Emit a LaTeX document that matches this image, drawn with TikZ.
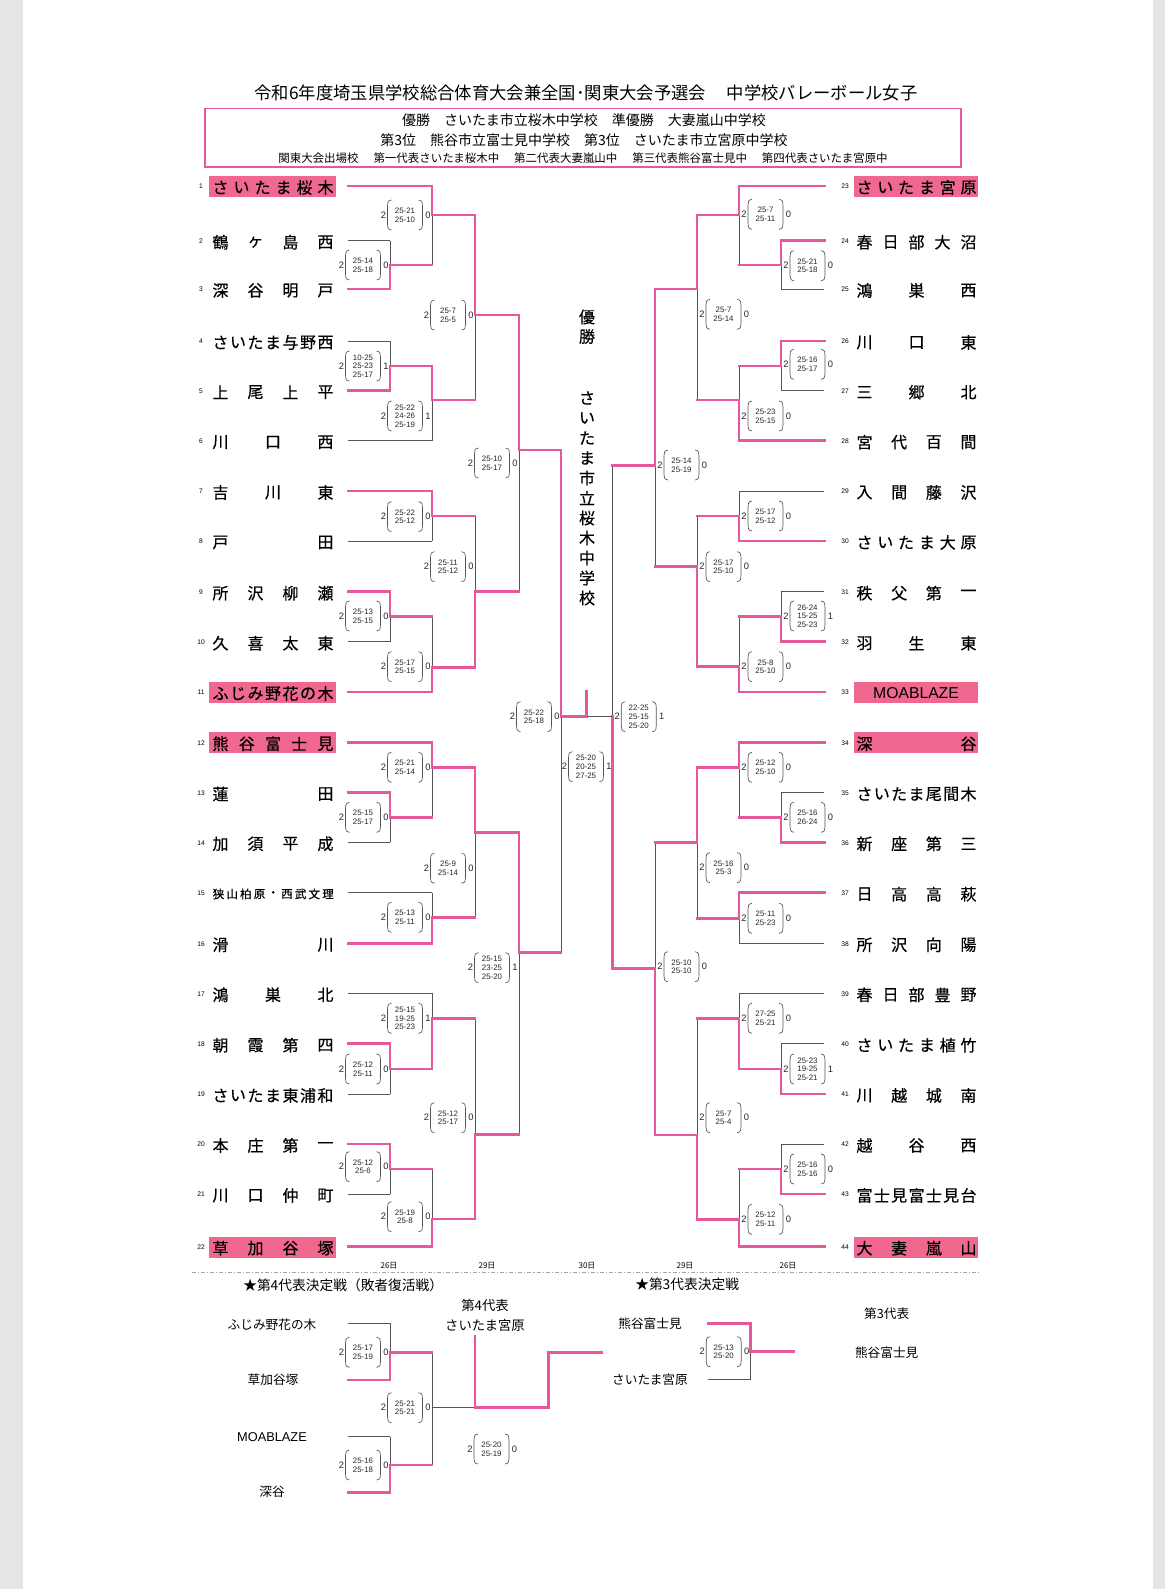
\documentclass[tikz,border=0pt]{standalone}
\usepackage{fontspec}
\setmainfont{Noto Sans CJK JP}
\newfontfamily\latf{Liberation Sans}
\newfontfamily\nmfont[FakeBold=0.5]{Noto Sans CJK JP}
\pgfdeclarelayer{back}
\pgfdeclarelayer{bg}
\pgfsetlayers{back,bg,main}
\definecolor{pkl}{HTML}{E6589C}
\definecolor{pkf}{HTML}{F0688F}
\definecolor{gl}{HTML}{555555}
\definecolor{pgbg}{HTML}{E6E6E6}
\tikzset{
 pk/.style={draw=pkl, line width=2.2pt, line cap=rect},
 bk/.style={draw=gl, line width=0.7pt},
 par/.style={draw=gl, line width=0.5pt},
 scd/.style={font=\latf\fontsize{7}{8}\selectfont, inner sep=0pt, text=black!85},
 scl/.style={font=\latf\fontsize{5.9}{6.5}\selectfont, inner sep=0pt, align=center, text=black!85},
 nm/.style={font=\nmfont\fontsize{12}{14}\selectfont, inner sep=0pt},
 nmsmall/.style={font=\nmfont\fontsize{8.6}{10}\selectfont, inner sep=0pt},
 num/.style={font=\latf\fontsize{5}{6}\selectfont, inner sep=0pt},
 hlbox/.style={fill=pkf, draw=none},
 lab/.style={font=\fontsize{9.5}{11}\selectfont, inner sep=0pt},
 dt/.style={font=\fontsize{6}{7}\selectfont, inner sep=0pt},
 ctr/.style={font=\nmfont\fontsize{12}{14}\selectfont, inner sep=0pt},
 dashl/.style={draw=gray!70, line width=0.6pt, dash pattern=on 3pt off 1.5pt on 0.8pt off 1.5pt}
}
\newcount\scn
\newcommand\SCR[5]{\global\advance\scn by 1
 \node[scd] (sc\the\scn a) at (#1+1.5,#2) {#3};
 \node[scl] (sc\the\scn b) at (#1+23,#2) {#4};
 \node[scd] (sc\the\scn c) at (#1+46,#2) {#5};
 \draw[par] (#1+9.5,#2-15) .. controls (#1+5.5,#2-14.5) and (#1+5.5,#2-12) .. (#1+5.5,#2-9) -- (#1+5.5,#2+9) .. controls (#1+5.5,#2+12) and (#1+5.5,#2+14.5) .. (#1+9.5,#2+15);
 \draw[par] (#1+36.5,#2-15) .. controls (#1+40.5,#2-14.5) and (#1+40.5,#2-12) .. (#1+40.5,#2-9) -- (#1+40.5,#2+9) .. controls (#1+40.5,#2+12) and (#1+40.5,#2+14.5) .. (#1+36.5,#2+15);}
\newcommand\SL[4]{\SCR{#1-50}{#2}{2}{#3}{#4}}
\newcommand\SR[4]{\SCR{#1+3.5}{#2}{2}{#3}{#4}}
\newcommand\TL[3]{\draw[#1] (348,#2) -- (#3,#2);}
\newcommand\TR[3]{\draw[#1] (824.3,#2) -- (#3,#2);}
\newcommand\MT[6]{\begin{pgfonlayer}{bg}\draw[bk] (#1,#3) -- (#1,#4);\end{pgfonlayer}
 \draw[pk] (#1,#2) -- (#1,#4);
 \draw[#6] (#1,#4) -- (#5,#4);}
\newcommand\NM[7]{\foreach \ch [count=\i] in {#7} {\node[#6] (#1-\i) at ({#2+(\i-1)*(#3-#2)/(#5-1)},#4) {\ch};}}
\newcommand\NL[4]{\node[num] (nl#1) at (201,#2+0.5) {#1};\NM{tl#1}{220.5}{325.5}{#2+1.5}{#3}{nm}{#4}}
\newcommand\NR[4]{\node[num] (nr#1) at (845,#2+0.5) {#1};\NM{tr#1}{864.5}{968.5}{#2+1.5}{#3}{nm}{#4}}
\newcommand\HL[1]{\fill[hlbox] (209,#1-10) rectangle (336,#1+11);}
\newcommand\HR[1]{\fill[hlbox] (854,#1-10) rectangle (978,#1+11);}
\begin{document}
\begin{tikzpicture}[x=0.75pt,y=-0.75pt]
\useasboundingbox (0,0) rectangle (1165,1589);
\begin{pgfonlayer}{back}
\fill[pgbg] (0,0) rectangle (1165,1589);
\fill[white] (23,0) rectangle (1153,1589);
\end{pgfonlayer}
% header
\node[font=\fontsize{13}{15}\selectfont, inner sep=0pt] (title) at (586,93) {令和6年度埼玉県学校総合体育大会兼全国･関東大会予選会\hspace{1.2em}中学校バレーボール女子};
\draw[draw=pkl, line width=1.1pt] (205,108.4) rectangle (961,167.2);
\node[font=\fontsize{10.5}{12}\selectfont, inner sep=0pt] (h1) at (584,120.6) {優勝　さいたま市立桜木中学校　準優勝　大妻嵐山中学校};
\node[font=\fontsize{10.5}{12}\selectfont, inner sep=0pt] (h2) at (584,140) {第3位　熊谷市立富士見中学校　第3位　さいたま市立宮原中学校};
\node[font=\fontsize{8.6}{10}\selectfont, inner sep=0pt] (h3) at (583,158.2) {関東大会出場校\hspace{1.3em}第一代表さいたま桜木中\hspace{1.3em}第二代表大妻嵐山中\hspace{1.3em}第三代表熊谷富士見中\hspace{1.3em}第四代表さいたま宮原中};
% highlight boxes
\HL{186}\HL{692}\HL{742.3}\HL{1246.7}
\HR{186}\HR{692}\HR{742.3}\HR{1246.7}
% left names
\NL{1}{186}{6}{さ,い,た,ま,桜,木}
\NL{2}{240.7}{4}{鶴,ヶ,島,西}
\NL{3}{289}{4}{深,谷,明,戸}
\NL{4}{341}{7}{さ,い,た,ま,与,野,西}
\NL{5}{390.7}{4}{上,尾,上,平}
\NL{6}{440.7}{3}{川,口,西}
\NL{7}{491}{3}{吉,川,東}
\NL{8}{541}{2}{戸,田}
\NL{9}{591.7}{4}{所,沢,柳,瀬}
\NL{10}{641.7}{4}{久,喜,太,東}
\NL{11}{692}{7}{ふ,じ,み,野,花,の,木}
\NL{12}{742.3}{5}{熊,谷,富,士,見}
\NL{13}{792.5}{2}{蓮,田}
\NL{14}{842.3}{4}{加,須,平,成}
\node[num] (nl15) at (201,893.2) {15};
\NM{tl15}{218.5}{328}{894}{9}{nmsmall}{狭,山,柏,原,・,西,武,文,理}
\NL{16}{943.3}{2}{滑,川}
\NL{17}{993.3}{3}{鴻,巣,北}
\NL{18}{1043.7}{4}{朝,霞,第,四}
\NL{19}{1094}{7}{さ,い,た,ま,東,浦,和}
\NL{20}{1144}{4}{本,庄,第,一}
\NL{21}{1194}{4}{川,口,仲,町}
\NL{22}{1246.7}{4}{草,加,谷,塚}
% right names
\NR{23}{186}{6}{さ,い,た,ま,宮,原}
\NR{24}{240.7}{5}{春,日,部,大,沼}
\NR{25}{289}{3}{鴻,巣,西}
\NR{26}{341}{3}{川,口,東}
\NR{27}{390.7}{3}{三,郷,北}
\NR{28}{440.7}{4}{宮,代,百,間}
\NR{29}{491}{4}{入,間,藤,沢}
\NR{30}{541}{6}{さ,い,た,ま,大,原}
\NR{31}{591.7}{4}{秩,父,第,一}
\NR{32}{641.7}{3}{羽,生,東}
\node[num] (nr33) at (845,692.5) {33};
\node[font=\latf\fontsize{11.8}{13}\selectfont, inner sep=0pt] (tr33) at (916,693.5) {MOABLAZE};
\NR{34}{742.3}{2}{深,谷}
\NR{35}{792.5}{7}{さ,い,た,ま,尾,間,木}
\NR{36}{842.3}{4}{新,座,第,三}
\NR{37}{892.7}{4}{日,高,高,萩}
\NR{38}{943.3}{4}{所,沢,向,陽}
\NR{39}{993.3}{5}{春,日,部,豊,野}
\NR{40}{1043.7}{6}{さ,い,た,ま,植,竹}
\NR{41}{1094}{4}{川,越,城,南}
\NR{42}{1144}{3}{越,谷,西}
\NR{43}{1194}{7}{富,士,見,富,士,見,台}
\NR{44}{1246.7}{4}{大,妻,嵐,山}
% left team lines
\TL{pk}{186}{432}\TL{bk}{240.7}{390}\TL{pk}{289}{390}\TL{bk}{341}{390}
\TL{pk}{390.7}{390}\TL{bk}{440.7}{432}\TL{pk}{491}{432}\TL{bk}{541}{432}
\TL{pk}{591.7}{390}\TL{bk}{641.7}{390}\TL{pk}{692}{432}\TL{pk}{742.3}{432}
\TL{pk}{792.5}{390}\TL{bk}{842.3}{390}\TL{bk}{892.7}{432}\TL{pk}{943.3}{432}
\TL{bk}{993.3}{432}\TL{pk}{1043.7}{390}\TL{bk}{1094}{390}\TL{pk}{1144}{390}
\TL{bk}{1194}{390}\TL{pk}{1246.7}{432}
% left matches
\MT{390}{289}{240.7}{265}{432}{pk}
\MT{432}{186}{265}{215}{475}{pk}
\MT{390}{390.7}{341}{366}{432}{pk}
\MT{432}{366}{440.7}{400}{475}{pk}
\MT{475}{215}{400}{315}{519}{pk}
\MT{432}{491}{541}{516}{475}{pk}
\MT{390}{591.7}{641.7}{616.7}{432}{pk}
\MT{432}{692}{616.7}{667.3}{475}{pk}
\MT{475}{667.3}{516}{591.7}{519}{pk}
\MT{519}{315}{591.7}{450}{561}{pk}
\MT{390}{792.5}{842.3}{817.3}{432}{pk}
\MT{432}{742.3}{817.3}{767.3}{475}{pk}
\MT{432}{943.3}{892.7}{917.3}{475}{pk}
\MT{475}{767.3}{917.3}{832.7}{519}{pk}
\MT{390}{1043.7}{1094}{1069}{432}{pk}
\MT{432}{1069}{993.3}{1018.3}{475}{pk}
\MT{390}{1144}{1194}{1169}{432}{pk}
\MT{432}{1246.7}{1169}{1219}{475}{pk}
\MT{475}{1219}{1018.3}{1134.3}{519}{pk}
\MT{519}{832.7}{1134.3}{952.7}{561}{pk}
\MT{561}{450}{952.7}{716.7}{586.7}{pk}
\draw[pk] (586.7,716.7) -- (586.7,691.7);
% right team lines
\TR{pk}{186}{739}\TR{pk}{240.7}{781}\TR{bk}{289}{781}\TR{pk}{341}{781}
\TR{bk}{390.7}{781}\TR{pk}{440.7}{739}\TR{bk}{491}{739}\TR{pk}{541}{739}
\TR{bk}{591.7}{781}\TR{pk}{641.7}{781}\TR{pk}{692}{739}\TR{pk}{742.3}{739}
\TR{bk}{792.5}{781}\TR{pk}{842.3}{781}\TR{pk}{892.7}{739}\TR{bk}{943.3}{739}
\TR{bk}{993.3}{739}\TR{bk}{1043.7}{781}\TR{pk}{1094}{781}\TR{bk}{1144}{781}
\TR{pk}{1194}{781}\TR{pk}{1246.7}{739}
% right matches
\MT{781}{240.7}{289}{265}{739}{pk}
\MT{739}{186}{265}{215}{697}{pk}
\MT{781}{341}{390.7}{366}{739}{pk}
\MT{739}{440.7}{366}{400}{697}{pk}
\MT{697}{215}{400}{289}{655}{pk}
\MT{739}{541}{491}{516}{697}{pk}
\MT{781}{641.7}{591.7}{616.7}{739}{pk}
\MT{739}{692}{616.7}{666.7}{697}{pk}
\MT{697}{666.7}{516}{566.7}{655}{pk}
\MT{655}{289}{566.7}{465.7}{612.3}{pk}
\MT{781}{842.3}{792.5}{817.3}{739}{pk}
\MT{739}{742.3}{817.3}{767.3}{697}{pk}
\MT{739}{892.7}{943.3}{918.3}{697}{pk}
\MT{697}{767.3}{918.3}{842.7}{655}{pk}
\MT{781}{1094}{1043.7}{1069}{739}{pk}
\MT{739}{1069}{993.3}{1018.3}{697}{pk}
\MT{781}{1194}{1144}{1169}{739}{pk}
\MT{739}{1246.7}{1169}{1219.3}{697}{pk}
\MT{697}{1219.3}{1018.3}{1135}{655}{pk}
\MT{655}{1135}{842.7}{968.3}{612.3}{pk}
\MT{612.3}{968.3}{465.7}{716.7}{586.7}{bk}
% left scores
\SL{390}{265}{25-14\\25-18}{0}
\SL{432}{215}{25-21\\25-10}{0}
\SL{390}{366}{10-25\\25-23\\25-17}{1}
\SL{432}{416}{25-22\\24-26\\25-19}{1}
\SL{475}{315}{25-7\\25-5}{0}
\SL{519}{463}{25-10\\25-17}{0}
\SL{432}{516.7}{25-22\\25-12}{0}
\SL{475}{566.7}{25-11\\25-12}{0}
\SL{390}{616}{25-13\\25-15}{0}
\SL{432}{666.7}{25-17\\25-15}{0}
\SL{561}{716.7}{25-22\\25-18}{0}
\SL{432}{767.3}{25-21\\25-14}{0}
\SL{390}{817.3}{25-15\\25-17}{0}
\SL{475}{868.3}{25-9\\25-14}{0}
\SL{432}{917.3}{25-13\\25-11}{0}
\SL{519}{967.7}{25-15\\23-25\\25-20}{1}
\SL{432}{1018.3}{25-15\\19-25\\25-23}{1}
\SL{390}{1069}{25-12\\25-11}{0}
\SL{475}{1117.7}{25-12\\25-17}{0}
\SL{390}{1166.7}{25-12\\25-6}{0}
\SL{432}{1216.7}{25-19\\25-8}{0}
% right scores
\SR{739}{214.3}{25-7\\25-11}{0}
\SR{781}{265.7}{25-21\\25-18}{0}
\SR{697}{314.3}{25-7\\25-14}{0}
\SR{781}{364.3}{25-16\\25-17}{0}
\SR{739}{416}{25-23\\25-15}{0}
\SR{655}{465}{25-14\\25-19}{0}
\SR{739}{516}{25-17\\25-12}{0}
\SR{697}{566.7}{25-17\\25-10}{0}
\SR{781}{616}{26-24\\15-25\\25-23}{1}
\SR{739}{666.7}{25-8\\25-10}{0}
\SR{612.3}{716.7}{22-25\\25-15\\25-20}{1}
\SR{739}{767.3}{25-12\\25-10}{0}
\SR{781}{817.3}{25-16\\26-24}{0}
\SR{697}{867.7}{25-16\\25-3}{0}
\SR{739}{918.3}{25-11\\25-23}{0}
\SR{655}{966.7}{25-10\\25-10}{0}
\SR{739}{1018.3}{27-25\\25-21}{0}
\SR{781}{1069}{25-23\\19-25\\25-21}{1}
\SR{697}{1117.7}{25-7\\25-4}{0}
\SR{781}{1169}{25-16\\25-16}{0}
\SR{739}{1219.3}{25-12\\25-11}{0}
% final
\SCR{563}{766.7}{2}{25-20\\20-25\\27-25}{1}
% center text
\node[ctr] (yu1) at (587,317) {優};
\node[ctr] (yu2) at (587,336.5) {勝};
\foreach \ch [count=\i] in {さ,い,た,ま,市,立,桜,木,中,学,校} {\node[ctr] (cn-\i) at (587,{398+(\i-1)*20}) {\ch};}
% dates
\node[dt] (d1) at (389,1266) {26日};
\node[dt] (d2) at (487,1266) {29日};
\node[dt] (d3) at (587,1266) {30日};
\node[dt] (d4) at (685,1266) {29日};
\node[dt] (d5) at (788,1266) {26日};
\draw[dashl] (192,1272.5) -- (980,1272.5);
% 4th representative
\node[lab, font=\fontsize{10.3}{12}\selectfont, anchor=west] (b4t) at (243,1285) {★第4代表決定戦（敗者復活戦）};
\node[lab, font=\fontsize{10}{12}\selectfont] (b4a) at (485,1305) {第4代表};
\node[lab, font=\fontsize{10}{12}\selectfont] (b4b) at (485,1325) {さいたま宮原};
\node[lab] (bf1) at (272,1325) {ふじみ野花の木};
\node[lab] (bf2) at (273,1380) {草加谷塚};
\node[lab, font=\latf\fontsize{9.6}{11}\selectfont] (bf3) at (272,1436.7) {MOABLAZE};
\node[lab] (bf4) at (272,1491.7) {深谷};
\draw[bk] (348,1323.3) -- (390,1323.3);
\draw[pk] (348,1380) -- (390,1380);
\MT{390}{1380}{1323.3}{1352.3}{432}{pk}
\draw[bk] (348,1436.7) -- (390,1436.7);
\draw[pk] (348,1492.7) -- (390,1492.7);
\MT{390}{1492.7}{1436.7}{1465}{432}{pk}
\begin{pgfonlayer}{bg}
\draw[bk] (432,1352.3) -- (432,1465);
\draw[bk] (432,1407.7) -- (475,1407.7);
\end{pgfonlayer}
\draw[pk] (475,1336.7) -- (475,1407.7) -- (548.3,1407.7) -- (548.3,1352.3) -- (601.7,1352.3);
\SL{390}{1352.3}{25-17\\25-19}{0}
\SL{390}{1465}{25-16\\25-18}{0}
\SL{432}{1407.7}{25-21\\25-21}{0}
\SCR{468.5}{1449}{2}{25-20\\25-19}{0}
% 3rd representative
\node[lab, font=\fontsize{10.3}{12}\selectfont, anchor=west] (b3t) at (635,1284) {★第3代表決定戦};
\node[lab] (b3a) at (650,1324) {熊谷富士見};
\node[lab] (b3b) at (650,1380) {さいたま宮原};
\draw[pk] (708.3,1323.3) -- (750.7,1323.3);
\draw[bk] (708.3,1379.3) -- (750.7,1379.3);
\MT{750.7}{1323.3}{1379.3}{1351.7}{793.3}{pk}
\SL{750.7}{1351.7}{25-13\\25-20}{0}
\node[lab] (b3c) at (886.7,1313.3) {第3代表};
\node[lab] (b3d) at (886.7,1352.7) {熊谷富士見};
\end{tikzpicture}
\end{document}
